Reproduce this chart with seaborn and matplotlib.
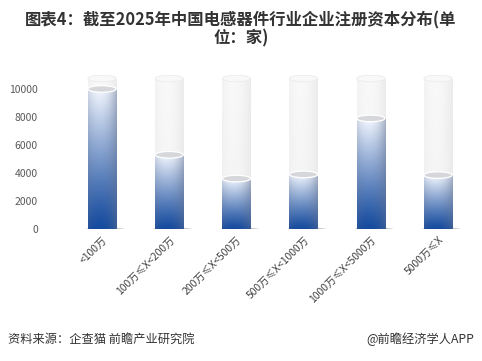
import numpy as np
import pandas as pd
import matplotlib
matplotlib.use("Agg")
import matplotlib.pyplot as plt
from matplotlib.patches import Ellipse
import seaborn as sns

categories = ["<100万", "100万≤X<200万", "200万≤X<500万", "500万≤X<1000万",
              "1000万≤X<5000万", "5000万≤X"]
values = [10000, 5300, 3600, 3900, 7900, 3850]
yticks = [0, 2000, 4000, 6000, 8000, 10000]
title = "图表4：截至2025年中国电感器件行业企业注册资本分布(单\n位：家)"
source = "资料来源：企查猫 前瞻产业研究院"
brand = "@前瞻经济学人APP"

sns.set_theme(style="white")
plt.rcParams['font.family'] = ['Noto Sans CJK SC', 'DejaVu Sans']

fig = plt.figure(figsize=(4.82, 3.61), dpi=100)
ax = fig.add_axes([68.4 / 482, 1 - 229 / 361, (471.6 - 68.4) / 482, 154 / 361])

YMAX = 11000
BG = 10750
W = 0.42
EH = 470  # ellipse height in data units

df = pd.DataFrame({"cat": categories, "val": values, "bg": [BG] * len(categories)})

sns.barplot(data=df, x="cat", y="bg", color="#f3f3f3", width=W, ax=ax,
            saturation=1, zorder=1)
bg_patches = list(ax.patches)
sns.barplot(data=df, x="cat", y="val", color="#2a5caa", width=W, ax=ax,
            saturation=1, zorder=3)
fg_patches = [p for p in ax.patches if p not in bg_patches]


def cyl_image(top_rgb, bot_rgb, edge_rgb, nx=60, ny=200, gamma=0.9, ew=0.55):
    t = np.linspace(-1, 1, nx)
    v = np.linspace(1, 0, ny)[:, None]  # row 0 = top
    base = bot_rgb[None, None, :] * (1 - v[..., None] ** gamma) + \
        top_rgb[None, None, :] * (v[..., None] ** gamma)
    e = (np.abs(t + 0.2) / 1.2) ** 2.0
    e = np.clip(e, 0, 1)[None, :, None]
    img = base * (1 - ew * e) + edge_rgb[None, None, :] * ew * e
    return np.clip(img, 0, 1)


# background cylinders
for p in bg_patches:
    x0, w, h = p.get_x(), p.get_width(), p.get_height()
    p.set_facecolor("none")
    p.set_edgecolor("none")
    img = cyl_image(np.array([0.975, 0.975, 0.975]), np.array([0.955, 0.955, 0.955]),
                    np.array([0.87, 0.87, 0.87]), ew=0.5)
    im = ax.imshow(img, extent=[x0, x0 + w, 0, h], aspect="auto", zorder=1,
                   interpolation="bilinear")
    im.set_clip_path(p)
    ax.add_patch(Ellipse((x0 + w / 2, h), w, EH, facecolor="#f8f8f8",
                         edgecolor="#ebebeb", lw=0.6, zorder=2))
    # shadow
    ax.add_patch(Ellipse((x0 + w / 2 + 0.05, -90), w * 1.55, EH * 0.9,
                         facecolor="#8c8c8c", edgecolor="none", alpha=0.45, zorder=0.5))

# filled cylinders
for p in fg_patches:
    x0, w, h = p.get_x(), p.get_width(), p.get_height()
    p.set_facecolor("none")
    p.set_edgecolor("none")
    img = cyl_image(np.array([0.96, 0.975, 1.0]), np.array([0.08, 0.29, 0.62]),
                    np.array([0.38, 0.44, 0.56]), gamma=1.15, ew=0.5)
    ax.add_patch(Ellipse((x0 + w / 2, 0), w, EH, facecolor="#1b4c99",
                         edgecolor="none", zorder=3))
    im = ax.imshow(img, extent=[x0, x0 + w, 0, h], aspect="auto", zorder=4,
                   interpolation="bilinear")
    im.set_clip_path(p)
    ax.add_patch(Ellipse((x0 + w / 2, h), w, EH, facecolor="#d6d7da",
                         edgecolor="#ffffff", lw=0.9, zorder=5))

ax.set_xlim(-0.5, len(categories) - 0.5)
ax.set_ylim(0, YMAX)
ax.set_yticks(yticks)
ax.set_yticklabels([str(v) for v in yticks], fontsize=7.5, color="#595959")
ax.tick_params(axis="y", length=0, pad=22)
ax.tick_params(axis="x", length=0, pad=4)
ax.set_xticks(range(len(categories)))
ax.set_xticklabels(categories, rotation=45, ha="right", rotation_mode="anchor",
                   fontsize=7.5, color="#404040")
ax.set_xlabel("")
ax.set_ylabel("")
for s in ax.spines.values():
    s.set_visible(False)
ax.set_facecolor("none")

fig.text(0.5, 1 - 11 / 361, title, ha="center", va="top", fontsize=11.8,
         fontweight="bold", color="#333333", linespacing=1.0)
fig.text(8 / 482, 1 - 339 / 361, source, ha="left", va="center", fontsize=8.8,
         color="#333333")
fig.text(474 / 482, 1 - 339 / 361, brand, ha="right", va="center", fontsize=8.8,
         color="#333333")

fig.savefig("out.png", dpi=100)
